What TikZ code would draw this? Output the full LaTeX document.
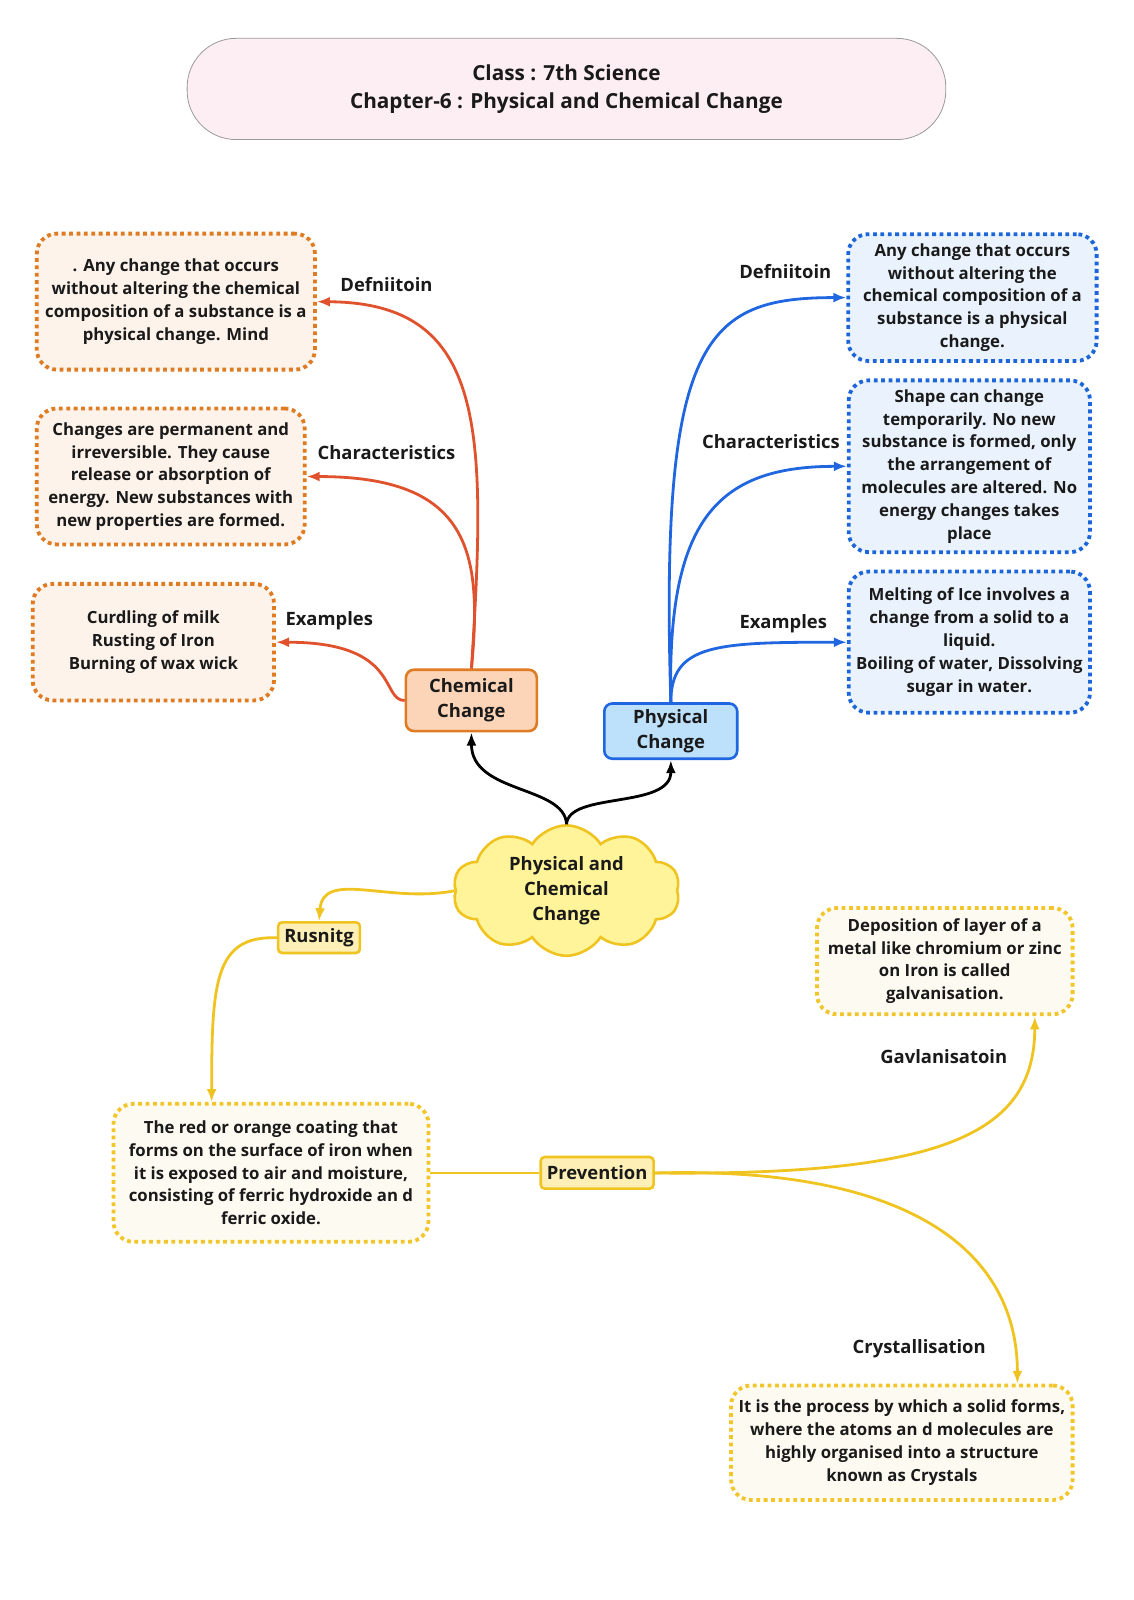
\documentclass[tikz,border=0pt]{standalone}
\usepackage{fontspec}
\setmainfont{Open Sans}
\usetikzlibrary{arrows.meta,shapes.symbols}
\definecolor{inkc}{HTML}{1A1A1A}
\definecolor{titlefill}{HTML}{FDEEF3}
\definecolor{titleline}{HTML}{9A9A9A}
\definecolor{chemdot}{HTML}{DF7B22}
\definecolor{chemfill}{HTML}{FDF3EA}
\definecolor{chemnode}{HTML}{FCD5B8}
\definecolor{chemline}{HTML}{E0522E}
\definecolor{physdot}{HTML}{1C66D9}
\definecolor{physfill}{HTML}{EAF3FD}
\definecolor{physnode}{HTML}{BDE0FB}
\definecolor{physline}{HTML}{1F66E0}
\definecolor{rustdot}{HTML}{F2C62A}
\definecolor{rustfill}{HTML}{FDFAF1}
\definecolor{rustnode}{HTML}{FDEFB5}
\definecolor{rustline}{HTML}{F0C420}
\definecolor{cloudfill}{HTML}{FFF49A}
\newcommand\boxfont{\fontsize{16.4}{22.3}\selectfont\bfseries}
\newcommand\tagfont{\fontsize{18}{24.5}\selectfont\bfseries}
\tikzset{>={Latex[length=13pt,width=10pt]},
  every node/.style={text=inkc, transform shape},
  dotbox/.style={line width=3.8pt, dash pattern=on 3.8pt off 3.6pt, rounded corners=20pt,
    align=center, font=\boxfont, inner sep=2pt},
  chembox/.style={dotbox, draw=chemdot, fill=chemfill},
  physbox/.style={dotbox, draw=physdot, fill=physfill},
  rustbox/.style={dotbox, draw=rustdot, fill=rustfill},
  topic/.style={line width=2.6pt, rounded corners=8pt, align=center, font=\tagfont},
  tag/.style={font=\tagfont},
  chemarrow/.style={->, line width=2.8pt, draw=chemline},
  physarrow/.style={->, line width=2.8pt, draw=physline},
  rustarrow/.style={->, line width=2.8pt, draw=rustline},
}
\begin{document}
\begin{tikzpicture}[x=1pt,y=-1pt,scale=1.0225]
  \fill[white] (0,0) rectangle (1108.07,1564.8);
  \useasboundingbox (0,0) rectangle (1108.07,1564.8);

  \node[draw=titleline, fill=titlefill, line width=0.8pt, rounded corners=49pt,
    minimum width=742pt, minimum height=99pt, align=center,
    font=\fontsize{20.3}{28}\selectfont\bfseries] (title) at (554,87)
    {Class : 7th Science\\Chapter-6 : Physical and Chemical Change};

  \node[cloud, cloud puffs=10, cloud puff arc=115, cloud ignores aspect, draw=rustline,
    fill=cloudfill, line width=2.6pt, minimum width=222pt, minimum height=118pt,
    align=center, font=\tagfont] (root) at (554,871) {Physical and\\Chemical\\Change};

  \node[topic, draw=chemdot, fill=chemnode, minimum width=128pt, minimum height=60pt]
    (chem) at (461,685) {Chemical\\Change};
  \node[topic, draw=physline, fill=physnode, minimum width=130pt, minimum height=54pt]
    (phys) at (656,715) {Physical\\Change};

  \node[chembox, minimum width=272pt, minimum height=133pt] (cdef) at (172,295)
    {. Any change that occurs\\without altering the chemical\\composition of a substance is a\\physical change. Mind};
  \node[chembox, minimum width=262pt, minimum height=133pt] (cchar) at (167,466)
    {Changes are permanent and\\irreversible. They cause\\release or absorption of\\energy. New substances with\\new properties are formed.};
  \node[chembox, minimum width=236pt, minimum height=114pt] (cex) at (150,628)
    {Curdling of milk\\Rusting of Iron\\Burning of wax wick};

  \node[physbox, minimum width=243pt, minimum height=124pt] (pdef) at (951,291)
    {Any change that occurs\\without altering the\\chemical composition of a\\substance is a physical\\change.};
  \node[physbox, minimum width=236pt, minimum height=168pt] (pchar) at (948,456)
    {Shape can change\\temporarily. No new\\substance is formed, only\\the arrangement of\\molecules are altered. No\\energy changes takes\\place};
  \node[physbox, minimum width=236pt, minimum height=138pt] (pex) at (948,628)
    {Melting of Ice involves a\\change from a solid to a\\liquid.\\Boiling of water, Dissolving\\sugar in water.};

  \node[tag] (cdeftag) at (378,278) {Defniitoin};
  \node[tag] (cchartag) at (378,443) {Characteristics};
  \node[tag] (cextag) at (322,607) {Examples};
  \node[tag] (pdeftag) at (768,266) {Defniitoin};
  \node[tag] (pchartag) at (754,432) {Characteristics};
  \node[tag] (pextag) at (766,610) {Examples};

  \node[topic, draw=rustline, fill=rustnode, rounded corners=4pt, inner xsep=6pt, inner ysep=3pt,
    minimum height=30pt] (rust) at (312,917) {Rusnitg};
  \node[rustbox, minimum width=308pt, minimum height=135pt] (rustdef) at (265,1147)
    {The red or orange coating that\\forms on the surface of iron when\\it is exposed to air and moisture,\\consisting of ferric hydroxide an d\\ferric oxide.};
  \node[topic, draw=rustline, fill=rustnode, rounded corners=4pt, inner xsep=6pt, inner ysep=3pt,
    minimum height=31pt] (prev) at (584,1147) {Prevention};
  \node[rustbox, minimum width=250pt, minimum height=104pt] (galv) at (924,940)
    {Deposition of layer of a\\metal like chromium or zinc\\on Iron is called\\galvanisation.};
  \node[rustbox, minimum width=334pt, minimum height=112pt] (crys) at (882,1411)
    {It is the process by which a solid forms,\\where the atoms an d molecules are\\highly organised into a structure\\known as Crystals};
  \node[tag] (galvtag) at (923,1033) {Gavlanisatoin};
  \node[tag] (crystag) at (899,1319) {Crystallisation};

  \draw[->, line width=2.8pt] (root.north) .. controls +(-2,-38) and +(0,60) .. (chem.south);
  \draw[->, line width=2.8pt] (root.north) .. controls +(2,-32) and +(0,48) .. (phys.south);

  \draw[chemarrow] (chem.north) .. controls (476,420) and (476,296) .. (cdef.east);
  \draw[chemarrow] (chem.north) .. controls (472,540) and (460,466) .. (cchar.east);
  \draw[chemarrow] (chem.west) .. controls (372,685) and (392,628) .. (cex.east);

  \draw[physarrow] (phys.north) .. controls (645,330) and (690,291) .. (pdef.west);
  \draw[physarrow] (phys.north) .. controls (652,510) and (700,456) .. (pchar.west);
  \draw[physarrow] (phys.north) .. controls (656,630) and (700,628) .. (pex.west);

  \draw[rustarrow] (root.west) .. controls (380,884) and (316,850) .. (rust.north);
  \draw[rustarrow] (rust.west) .. controls (210,915) and (207,960) .. (rustdef.north -| 207,0);
  \draw[line width=2.8pt, draw=rustline] (rustdef.east) -- (prev.west);
  \draw[rustarrow] (prev.east) .. controls (920,1150) and (1012,1110) .. (galv.south -| 1012,0);
  \draw[rustarrow] (prev.east) .. controls (900,1140) and (995,1230) .. (crys.north -| 995,0);
\end{tikzpicture}
\end{document}
